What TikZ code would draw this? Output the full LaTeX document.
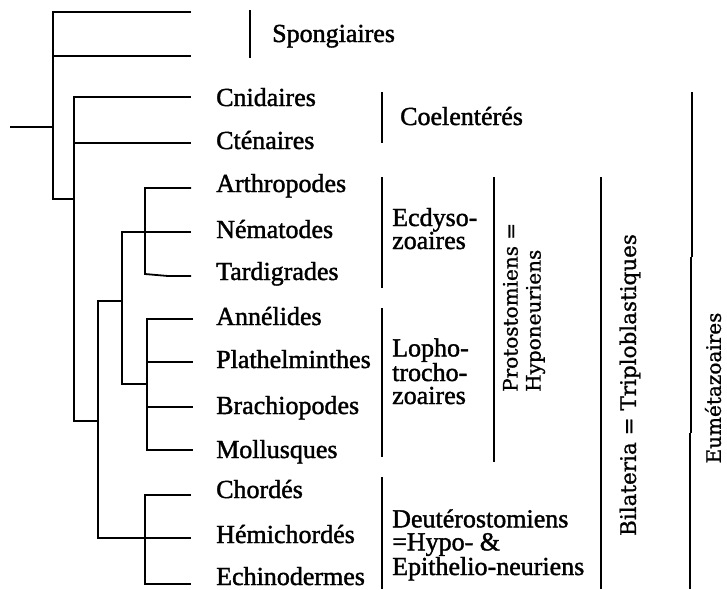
\documentclass[tikz,border=0pt]{standalone}
\usepackage{fontspec}
\setmainfont{Liberation Serif}[FakeBold=1.5]
\newfontfamily\rotfont{DejaVu Serif}[FakeBold=1.0]
\begin{document}
\begin{tikzpicture}[x=1pt,y=-1pt,
  br/.style={line width=1.8pt},
  bar/.style={line width=1.8pt},
  lab/.style={anchor=base west, inner sep=0pt, font=\fontsize{26}{23}\selectfont},
  grp/.style={anchor=base west, inner sep=0pt, align=left, font=\fontsize{26}{23}\selectfont},
  rot/.style={rotate=90, inner sep=0pt, font=\rotfont\fontsize{20}{23}\selectfont}]
\useasboundingbox (0,0) rectangle (727,589);
% tree junctions
\coordinate (R) at (10,127);
\coordinate (A) at (53,127);
\coordinate (At) at (53,12); \coordinate (Am) at (53,56); \coordinate (Ab) at (53,199);
\coordinate (B) at (74,199); \coordinate (Bt) at (74,97); \coordinate (Bm) at (74,143); \coordinate (Bb) at (74,421);
\coordinate (C) at (98,421); \coordinate (Ct) at (98,301); \coordinate (Cb) at (98,538);
\coordinate (D) at (122,301); \coordinate (Dt) at (122,232); \coordinate (Db) at (122,384);
\coordinate (Et) at (145,188); \coordinate (Eb) at (145,274); \coordinate (Ej) at (168,276);
\coordinate (F) at (147,384); \coordinate (Ft) at (147,319); \coordinate (F2) at (147,362); \coordinate (F3) at (147,407); \coordinate (Fb) at (147,450);
\coordinate (Gt) at (145,495); \coordinate (Gb) at (145,584);
% leaf ends
\coordinate (l1) at (191,12); \coordinate (l2) at (191,56);
\coordinate (l3) at (191,97); \coordinate (l4) at (191,143);
\coordinate (l5) at (191,188); \coordinate (l6) at (191,232); \coordinate (l7) at (191,276);
\coordinate (l8) at (193,319); \coordinate (l9) at (193,362); \coordinate (l10) at (193,407); \coordinate (l11) at (193,450);
\coordinate (l12) at (191,495); \coordinate (l13) at (191,538); \coordinate (l14) at (191,584);
% branches
\draw[br] (R) -- (A);
\draw[br] (l1) -- (At) -- (Ab) -- (B);
\draw[br] (Am) -- (l2);
\draw[br] (l3) -- (Bt) -- (Bb) -- (C);
\draw[br] (Bm) -- (l4);
\draw[br] (D) -- (Ct) -- (Cb) -- (l13);
\draw[br] (l6) -- (Dt) -- (Db) -- (F);
\draw[br] (l5) -- (Et) -- (Eb) -- (Ej) -- (l7);
\draw[br] (l8) -- (Ft) -- (Fb) -- (l11);
\draw[br] (F2) -- (l9);
\draw[br] (F3) -- (l10);
\draw[br] (l12) -- (Gt) -- (Gb) -- (l14);
% leaf labels
\node[lab] (spon) at (272,42) {Spongiaires};
\node[lab] (cnid) at (216,106) {Cnidaires};
\node[lab] (cten) at (216,149) {Cténaires};
\node[lab] (arth) at (216,192) {Arthropodes};
\node[lab] (nema) at (216,238) {Nématodes};
\node[lab] (tard) at (216,280) {Tardigrades};
\node[lab] (anne) at (216,325) {Annélides};
\node[lab] (plat) at (216,368) {Plathelminthes};
\node[lab] (brac) at (216,414) {Brachiopodes};
\node[lab] (moll) at (216,458) {Mollusques};
\node[lab] (chor) at (216,498) {Chordés};
\node[lab] (hemi) at (216,543) {Hémichordés};
\node[lab] (echi) at (216,585) {Echinodermes};
% group bars
\draw[bar] (250,10) -- (250,58);
\draw[bar] (382,92) -- (382,143);
\draw[bar] (382,177) -- (382,288);
\draw[bar] (382,308) -- (382,457);
\draw[bar] (382,477) -- (382,589);
\draw[bar] (494,177) -- (494,462);
\draw[bar] (601,177) -- (601,589);
\draw[bar] (692,92) -- (692,257);
\draw[bar] (691,257) -- (691,433);
\draw[bar] (690,433) -- (690,589);
% group labels (base = last line)
\node[grp] (coel) at (400,125) {Coelentérés};
\node[grp] (ecdy) at (392,249) {Ecdyso-\\zoaires};
\node[grp] (loph) at (392,404) {Lopho-\\trocho-\\zoaires};
\node[grp] (deut) at (392,575) {Deutérostomiens\\=Hypo- \&\\Epithelio-neuriens};
\node[rot, anchor=west, align=left] (prot) at (524,392) {Protostomiens =\\Hyponeuriens};
\node[rot, font=\rotfont\fontsize{21.5}{23}\selectfont] (bila) at (630,385) {Bilateria = Triploblastiques};
\node[rot] (eume) at (713,388) {Eumétazoaires};
\end{tikzpicture}
\end{document}
